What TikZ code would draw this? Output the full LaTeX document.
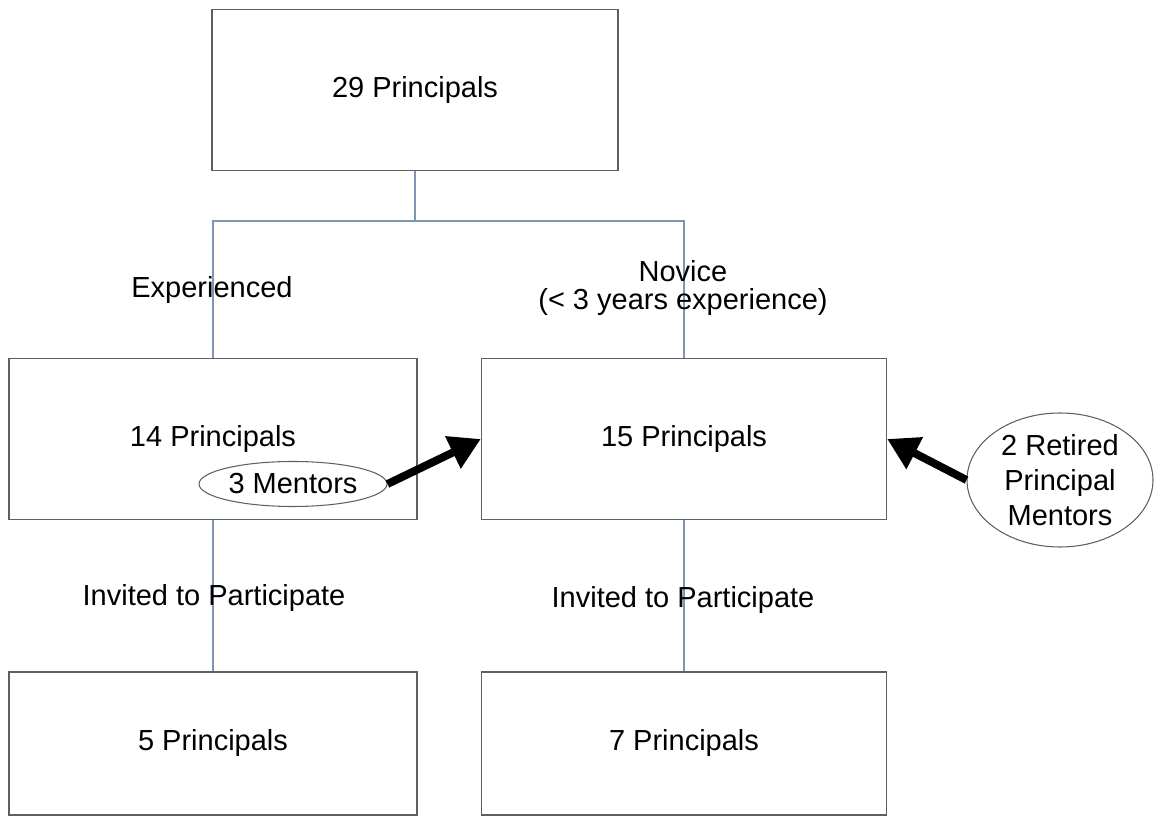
\documentclass[tikz,border=0pt]{standalone}
\usepackage{fontspec}
\setmainfont{Liberation Sans}
\usepackage{tikz}
\usetikzlibrary{arrows.meta,positioning,shapes.geometric}
\definecolor{boxc}{RGB}{95,95,95}
\definecolor{linkc}{RGB}{125,150,182}

\begin{document}
\begin{tikzpicture}[font=\fontsize{16.5}{16}\selectfont,
  box/.style={draw=boxc,line width=0.8pt,minimum width=8.12cm,minimum height=3.22cm,inner sep=0pt},
  lowbox/.style={box,minimum height=2.86cm},
  link/.style={draw=linkc,line width=0.6pt},
  oval/.style={draw=boxc,ellipse,line width=0.6pt,inner sep=0pt,align=center},
  push/.style={line width=4.5pt,-{Triangle[length=0.62cm,width=0.68cm]}}]
  \useasboundingbox (0,0) rectangle (23.08,-16.32);
  % boxes
  \node[box] (top) at (8.3,-1.8) {29 Principals};
  \node[box,minimum width=8.16cm] (mleft) at (4.26,-8.78) {14 Principals};
  \node[box,minimum width=8.1cm] (mright) at (13.68,-8.78) {15 Principals};
  \node[lowbox,minimum width=8.16cm] (bleft) at (4.26,-14.87) {5 Principals};
  \node[lowbox,minimum width=8.1cm] (bright) at (13.68,-14.87) {7 Principals};
  % connectors
  \coordinate (fork) at (8.3,-4.42);
  \draw[link] (top.south) -- (fork);
  \draw[link] (mleft.north) |- (fork) -| (mright.north);
  \draw[link] (mleft.south) -- (bleft.north);
  \draw[link] (mright.south) -- (bright.north);
  % labels
  \node (exp) at (4.24,-5.8) {Experienced};
  \node[align=center] (nov) at (13.66,-5.76) {Novice\\(< 3 years experience)};
  \node (invl) at (4.28,-11.96) {Invited to Participate};
  \node (invr) at (13.66,-12.0) {Invited to Participate};
  % mentors
  \node[oval,minimum width=3.76cm,minimum height=0.9cm] (ment) at (5.86,-9.68) {3 Mentors};
  \node[oval,minimum width=3.72cm,minimum height=2.68cm,font=\fontsize{16.5}{20}\selectfont] (retd) at (21.2,-9.6) {2 Retired\\Principal\\Mentors};
  \draw[push] (ment.east) -- (mright.west);
  \draw[push] (retd.west) -- (mright.east);
\end{tikzpicture}
\end{document}
